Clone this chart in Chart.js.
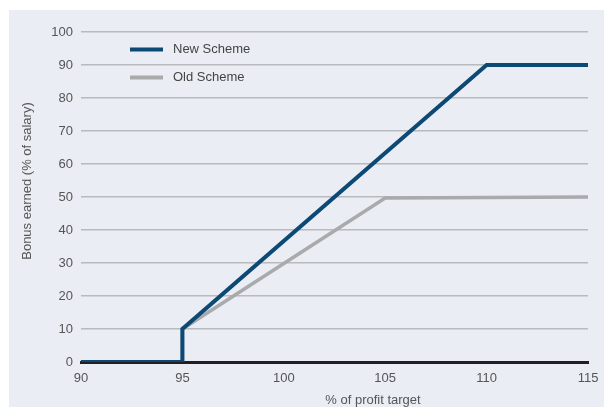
<!DOCTYPE html>
<html>
<head>
<meta charset="utf-8">
<script src="https://cdn.jsdelivr.net/npm/chart.js@4"></script>
<style>
  body { margin: 0; background: #fff; }
  #wrap { position: relative; width: 604px; height: 407px; }
</style>
</head>
<body>
<div id="wrap"><canvas id="myChart" width="604" height="407"></canvas></div>
<script>
// values
const seriesNames = ["New Scheme", "Old Scheme"];
const newX = [90, 95, 95, 110, 115];
const newY = [0, 0, 10, 90, 90];
const oldX = [90, 95, 95, 105, 115];
const oldY = [0, 0, 10, 49.7, 50];
const xTicks = [90, 95, 100, 105, 110, 115];
const xTitle = "% of profit target";
const yTitle = "Bonus earned (% of salary)";

const COLORS = {
  navy: '#0d4975',
  grey: '#a9aaac',
  panel: '#eaedf3',
  grid: '#b9babd',
  text: '#555555'
};

function pts(xs, ys) {
  let out = [];
  for (let i = 0; i < xs.length; i++) out.push({x: xs[i], y: ys[i]});
  return out;
}

const FONT = "'Liberation Sans', Arial, sans-serif";

// panel background, legend and axis titles
const decor = {
  id: 'decor',
  beforeDraw(chart) {
    const ctx = chart.ctx;
    ctx.save();
    ctx.fillStyle = COLORS.panel;
    ctx.fillRect(9, 10, 595, 397);
    ctx.restore();
  },
  afterDraw(chart) {
    const ctx = chart.ctx;
    ctx.save();
    // legend
    const rows = [49.5, 77.5];
    chart.data.datasets.forEach((ds, i) => {
      ctx.strokeStyle = ds.borderColor;
      ctx.lineWidth = 4;
      ctx.beginPath();
      ctx.moveTo(130, rows[i]);
      ctx.lineTo(163, rows[i]);
      ctx.stroke();
      ctx.fillStyle = '#444';
      ctx.font = "13px " + FONT;
      ctx.textBaseline = 'middle';
      ctx.textAlign = 'left';
      ctx.fillText(ds.label, 173, rows[i]);
    });
    // axis titles
    ctx.fillStyle = COLORS.text;
    ctx.font = "13px " + FONT;
    ctx.textAlign = 'center';
    ctx.textBaseline = 'middle';
    ctx.fillText(xTitle, 373, 400);
    ctx.translate(27, 181);
    ctx.rotate(-Math.PI / 2);
    ctx.fillText(yTitle, 0, 0);
    ctx.restore();
  }
};

const config = {
  type: 'line',
  data: {
    datasets: [
      {
        label: seriesNames[0],
        data: pts(newX, newY),
        borderColor: COLORS.navy,
        borderWidth: 4,
        pointRadius: 0,
        tension: 0,
        borderJoinStyle: 'miter',
        borderCapStyle: 'butt'
      },
      {
        label: seriesNames[1],
        data: pts(oldX, oldY),
        borderColor: COLORS.grey,
        borderWidth: 3.5,
        pointRadius: 0,
        tension: 0,
        borderJoinStyle: 'miter',
        borderCapStyle: 'butt'
      }
    ]
  },
  options: {
    responsive: false,
    animation: false,
    layout: { padding: { top: 32, right: 16, left: 0, bottom: 0 } },
    plugins: {
      legend: { display: false },
      tooltip: { enabled: false }
    },
    scales: {
      x: {
        type: 'linear',
        min: 90,
        max: 115,
        afterBuildTicks: (scale) => { scale.ticks = xTicks.map(v => ({value: v})); },
        afterFit: (scale) => { scale.height = 45; scale.paddingRight = 0; scale.paddingLeft = 0; },
        grid: { display: false, drawTicks: false },
        border: { display: true, color: '#231f20', width: 3 },
        ticks: { color: COLORS.text, font: { family: FONT, size: 13 }, padding: 9, maxRotation: 0 }
      },
      y: {
        min: 0,
        max: 100,
        afterFit: (scale) => { scale.width = 81; },
        grid: { color: COLORS.grid, lineWidth: 1.5, drawTicks: false },
        border: { display: false },
        ticks: { stepSize: 10, color: COLORS.text, font: { family: FONT, size: 13 }, padding: 8 }
      }
    }
  },
  plugins: [decor]
};

const myChart = new Chart(document.getElementById('myChart'), config);
</script>
</body>
</html>
